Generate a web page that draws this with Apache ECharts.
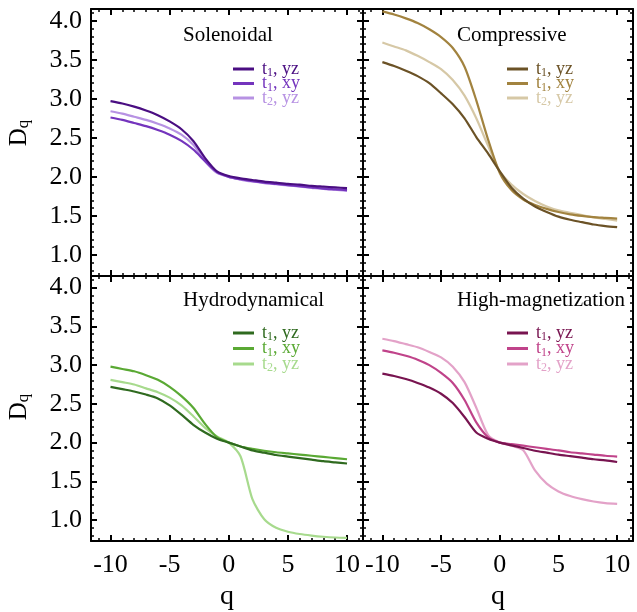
<!DOCTYPE html>
<html><head><meta charset="utf-8">
<script src="https://cdn.jsdelivr.net/npm/echarts@6/dist/echarts.min.js"></script>
<style>html,body{margin:0;padding:0;background:#fff}#c{width:637px;height:612px}</style>
</head><body><div id="c"></div>
<script>
const qValues = [-10,-9,-8,-7,-6,-5,-4,-3,-2,-1,0,1,2,3,4,5,6,7,8,9,10];
// Solenoidal
const solT1yz = [2.97,2.94,2.90,2.85,2.79,2.71,2.61,2.46,2.24,2.07,2.01,1.98,1.96,1.94,1.925,1.91,1.90,1.885,1.875,1.865,1.855];
const solT1xy = [2.76,2.73,2.69,2.65,2.60,2.54,2.46,2.35,2.20,2.06,2.00,1.97,1.945,1.925,1.91,1.895,1.88,1.865,1.85,1.84,1.83];
const solT2yz = [2.84,2.81,2.77,2.73,2.68,2.62,2.54,2.41,2.20,2.05,2.00,1.965,1.94,1.92,1.905,1.89,1.875,1.86,1.845,1.835,1.82];
// Compressive
const comT1yz = [3.47,3.42,3.36,3.29,3.20,3.07,2.93,2.75,2.51,2.30,2.07,1.86,1.72,1.62,1.55,1.49,1.45,1.42,1.39,1.37,1.355];
const comT1xy = [4.12,4.08,4.03,3.97,3.89,3.79,3.65,3.41,2.98,2.48,2.05,1.83,1.71,1.64,1.59,1.55,1.52,1.50,1.485,1.475,1.465];
const comT2yz = [3.72,3.67,3.62,3.55,3.47,3.38,3.24,3.04,2.75,2.40,2.07,1.90,1.78,1.69,1.62,1.57,1.54,1.51,1.48,1.46,1.44];
// Hydrodynamical
const hydT1yz = [2.72,2.69,2.66,2.62,2.57,2.48,2.36,2.23,2.13,2.05,2.00,1.95,1.90,1.87,1.84,1.82,1.80,1.78,1.76,1.745,1.73];
const hydT1xy = [2.98,2.95,2.92,2.87,2.81,2.72,2.60,2.45,2.24,2.07,2.00,1.95,1.92,1.895,1.875,1.86,1.845,1.83,1.815,1.80,1.785];
const hydT2yz = [2.81,2.78,2.75,2.70,2.65,2.58,2.48,2.34,2.19,2.08,2.00,1.82,1.27,1.01,0.90,0.85,0.82,0.80,0.785,0.775,0.77];
// High-magnetization
const magT1yz = [2.89,2.86,2.82,2.77,2.71,2.63,2.51,2.33,2.13,2.05,2.00,1.965,1.93,1.895,1.87,1.845,1.825,1.805,1.785,1.77,1.75];
const magT1xy = [3.19,3.16,3.12,3.07,3.00,2.90,2.77,2.55,2.26,2.07,2.00,1.98,1.96,1.94,1.92,1.90,1.875,1.86,1.845,1.83,1.82];
const magT2yz = [3.34,3.31,3.27,3.23,3.17,3.10,2.98,2.78,2.45,2.10,2.00,1.96,1.90,1.64,1.47,1.37,1.31,1.27,1.24,1.22,1.21];

const panelTitles = ['Solenoidal','Compressive','Hydrodynamical','High-magnetization'];
const legendSubs = ['1','1','2'];
const legendPlanes = ['yz','xy','yz'];
const xMajor = [-10,-5,0,5,10];
const xMinor = [-11,-9,-8,-7,-6,-4,-3,-2,-1,1,2,3,4,6,7,8,9,11];
const yMajor = [1.0,1.5,2.0,2.5,3.0,3.5,4.0];
const yMinor = [0.8,0.9,1.1,1.2,1.3,1.4,1.6,1.7,1.8,1.9,2.1,2.2,2.3,2.4,2.6,2.7,2.8,2.9,3.1,3.2,3.3,3.4,3.6,3.7,3.8,3.9,4.1];

const panelData = [[solT1yz,solT1xy,solT2yz],[comT1yz,comT1xy,comT2yz],[hydT1yz,hydT1xy,hydT2yz],[magT1yz,magT1xy,magT2yz]];
const panelColors = [
  ['#4a0e82','#7434bd','#b792e3'],
  ['#6b5226','#a2833f','#d6c8a6'],
  ['#2f6a1f','#5aa934','#a7da8d'],
  ['#781450','#c0438a','#e3a2c8']
];

const FONT = "'Liberation Serif','DejaVu Serif',serif";
const X_MIN = -11.65, X_MAX = 11.35, Y_MIN = 0.73, Y_MAX = 4.15;

const grids = [
  {left:91, top:9, width:272, height:267},
  {left:363, top:9, width:270, height:267},
  {left:91, top:276, width:272, height:266},
  {left:363, top:276, width:270, height:266}
];

const xAxes = [], yAxes = [];
function mkAxis(isX, g, pos, ticks, len, line, labelVals, name) {
  const ax = {
    type:'value', gridIndex:g, position:pos,
    min: isX ? X_MIN : Y_MIN, max: isX ? X_MAX : Y_MAX,
    splitLine:{show:false},
    axisLine:{show:line, onZero:false, lineStyle:{color:'#000', width:2}},
    axisTick:{show:true, inside:true, length:len, customValues:ticks,
      lineStyle:{color:'#000', width: len > 4 ? 2 : 1.5}},
    axisLabel:{show:!!labelVals, customValues: labelVals || undefined,
      fontFamily:FONT, fontSize:26, color:'#000', margin: isX ? 11 : 9,
      formatter: v => isX ? String(Math.round(v)) : v.toFixed(1)}
  };
  if (name) {
    ax.name = name; ax.nameLocation = 'middle'; ax.nameGap = 42;
    ax.nameTextStyle = {fontFamily:FONT, fontSize:28, color:'#000'};
  }
  return ax;
}
for (let g = 0; g < 4; g++) {
  const bottomRow = g >= 2, leftCol = g % 2 === 0;
  xAxes.push(mkAxis(true, g, 'bottom', xMajor, 6, true, bottomRow ? xMajor : null, bottomRow ? 'q' : null));
  xAxes.push(mkAxis(true, g, 'bottom', xMinor, 3, false, null));
  xAxes.push(mkAxis(true, g, 'top', xMajor, 6, true, null));
  xAxes.push(mkAxis(true, g, 'top', xMinor, 3, false, null));
  yAxes.push(mkAxis(false, g, 'left', yMajor, 6, true, leftCol ? yMajor : null));
  yAxes.push(mkAxis(false, g, 'left', yMinor, 3, false, null));
  yAxes.push(mkAxis(false, g, 'right', yMajor, 6, true, null));
  yAxes.push(mkAxis(false, g, 'right', yMinor, 3, false, null));
}

const series = [], legends = [];
for (let g = 0; g < 4; g++) {
  const names = [], rich = {};
  for (let i = 0; i < 3; i++) {
    const nm = 'p' + g + 's' + i;
    names.push(nm);
    const col = panelColors[g][i];
    series.push({
      name:nm, type:'line', xAxisIndex:4*g, yAxisIndex:4*g,
      data: qValues.map((q, k) => [q, panelData[g][i][k]]),
      symbol:'none', showSymbol:false, color:col,
      smooth:0.25,
      lineStyle:{color:col, width:2.2}, z: 3 - i, animation:false
    });
    rich['t'+i] = {color:col, fontFamily:FONT, fontSize:18, lineHeight:20, verticalAlign:'middle', padding:[0,0,0,3]};
    rich['n'+i] = {color:col, fontFamily:FONT, fontSize:18, lineHeight:20, verticalAlign:'middle'};
    rich['s'+i] = {color:col, fontFamily:FONT, fontSize:12, lineHeight:10, verticalAlign:'bottom'};
  }
  legends.push({
    orient:'vertical', left: g % 2 ? 507 : 233, top: g < 2 ? 60 : 324,
    itemWidth:21, itemHeight:3, itemGap: g < 2 ? -4.5 : -3.5, icon:'rect', selectedMode:false, padding:0,
    data:names,
    formatter: name => {
      const i = +name.slice(-1);
      return `{t${i}|t}{s${i}|${legendSubs[i]}}{n${i}|, ${legendPlanes[i]}}`;
    },
    textStyle:{fontFamily:FONT, fontSize:18, rich}
  });
}

const titles = panelTitles.map((t, g) => ({
  text:t, left: g % 2 ? 457 : 183, top: g < 2 ? 25 : 290, padding:0,
  textStyle:{fontFamily:FONT, fontSize:21, fontWeight:'normal', color:'#000'}
}));

const dqText = (y) => ({
  type:'text', x:19, y:y, rotation:Math.PI/2,
  style:{text:'{D|D}{q|q}', align:'center', verticalAlign:'middle',
    rich:{D:{fontFamily:FONT, fontSize:25, fill:'#000', color:'#000', lineHeight:26},
          q:{fontFamily:FONT, fontSize:17, fill:'#000', color:'#000', lineHeight:14, verticalAlign:'bottom'}}}
});

const chart = echarts.init(document.getElementById('c'), null, {renderer:'canvas'});
chart.setOption({
  animation:false,
  backgroundColor:'#fff',
  title:titles,
  legend:legends,
  grid:grids,
  xAxis:xAxes,
  yAxis:yAxes,
  series:series,
  graphic:[dqText(133), dqText(407)]
});
</script></body></html>
